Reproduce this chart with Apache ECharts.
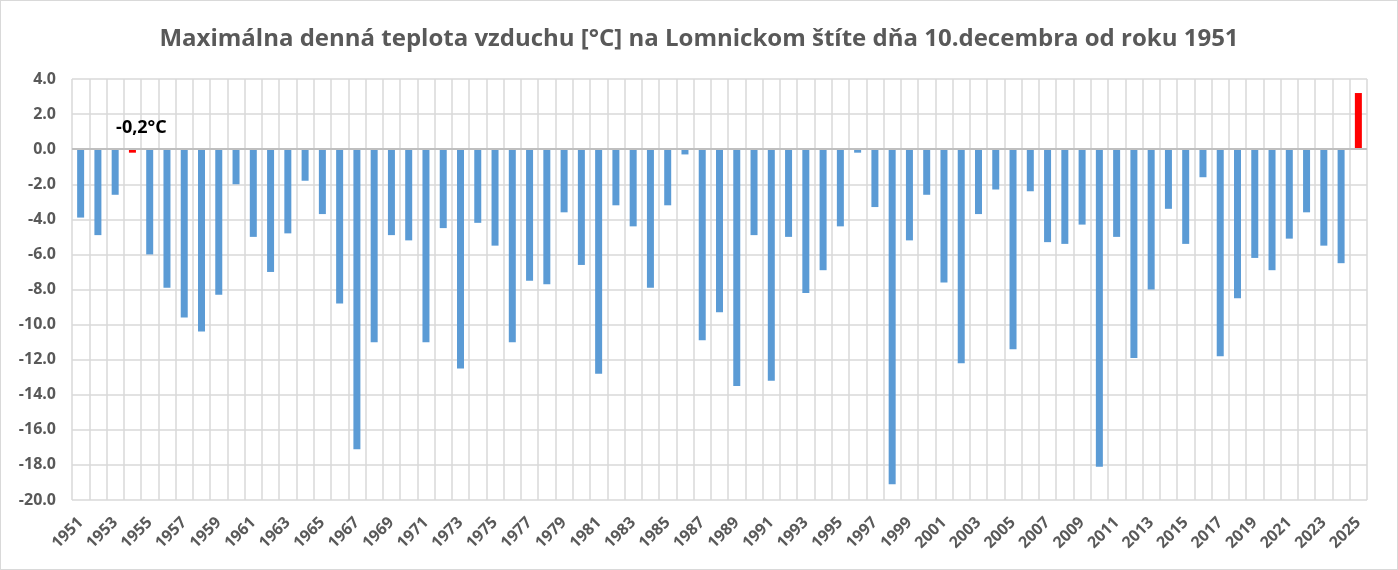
<!DOCTYPE html>
<html>
<head>
<meta charset="utf-8">
<script src="https://cdn.jsdelivr.net/npm/echarts@6/dist/echarts.min.js"></script>
<style>
html,body{margin:0;padding:0;background:#fff;}
#c{width:1398px;height:570px;box-sizing:border-box;border:1px solid #d9d9d9;}
</style>
</head>
<body>
<div id="c"></div>
<script>
const years = [];
for (let y = 1951; y <= 2025; y++) years.push(String(y));
const values = [
  -3.9, -4.9, -2.6, -0.2, -6.0, -7.9, -9.6, -10.4, -8.3, -2.0,
  -5.0, -7.0, -4.8, -1.8, -3.7, -8.8, -17.1, -11.0, -4.9, -5.2,
  -11.0, -4.5, -12.5, -4.2, -5.5, -11.0, -7.5, -7.7, -3.6, -6.6,
  -12.8, -3.2, -4.4, -7.9, -3.2, -0.3, -10.9, -9.3, -13.5, -4.9,
  -13.2, -5.0, -8.2, -6.9, -4.4, -0.2, -3.3, -19.1, -5.2, -2.6,
  -7.6, -12.2, -3.7, -2.3, -11.4, -2.4, -5.3, -5.4, -4.3, -18.1,
  -5.0, -11.9, -8.0, -3.4, -5.4, -1.6, -11.8, -8.5, -6.2, -6.9,
  -5.1, -3.6, -5.5, -6.5, 3.2
];
const highlightYears = ['1954', '2025'];
const annotatedYear = '1954';
const annotationText = '-0,2°C';
const titleText = 'Maximálna denná teplota vzduchu [°C] na Lomnickom štíte dňa 10.decembra od roku 1951';

const blue = '#5b9bd5', red = '#ff0000', gray = '#595959';
const fontFam = '"Open Sans", "Liberation Sans", sans-serif';

const seriesData = values.map((v, i) => {
  const item = { value: v };
  if (highlightYears.includes(years[i])) item.itemStyle = { color: red };
  if (years[i] === annotatedYear) {
    item.label = {
      show: true, position: 'top', formatter: annotationText,
      color: '#000', fontWeight: 'bold', fontSize: 18, fontFamily: fontFam,
      offset: [9, -7]
    };
  }
  return item;
});

const chart = echarts.init(document.getElementById('c'), null, { renderer: 'canvas' });
chart.setOption({
  backgroundColor: '#fff',
  animation: false,
  title: {
    text: titleText, left: 'center', top: 21,
    textStyle: { color: gray, fontSize: 24, fontWeight: 'bold', fontFamily: fontFam }
  },
  grid: { left: 71, right: 30, top: 78, bottom: 69, show: false },
  xAxis: {
    type: 'category', data: years, boundaryGap: true,
    axisLine: { show: false, onZero: false },
    axisTick: { show: false },
    axisLabel: {
      interval: 1, rotate: 45, margin: 20,
      color: gray, fontWeight: 'bold', fontSize: 16, fontFamily: fontFam
    },
    splitLine: { show: true, interval: 0, lineStyle: { color: '#d9d9d9', width: 1.5 } }
  },
  yAxis: {
    type: 'value', min: -20, max: 4, interval: 2,
    axisLine: { show: false }, axisTick: { show: false },
    axisLabel: {
      formatter: v => v.toFixed(1), margin: 16,
      color: gray, fontWeight: 'bold', fontSize: 16, fontFamily: fontFam
    },
    splitLine: { show: true, lineStyle: { color: '#d9d9d9', width: 1.5 } }
  },
  series: [{
    type: 'bar', data: seriesData, barWidth: 7,
    itemStyle: { color: blue },
    markLine: {
      silent: true, symbol: 'none', label: { show: false },
      lineStyle: { color: '#bfbfbf', width: 2, type: 'solid' },
      data: [{ yAxis: 0 }]
    }
  }]
});
</script>
</body>
</html>
